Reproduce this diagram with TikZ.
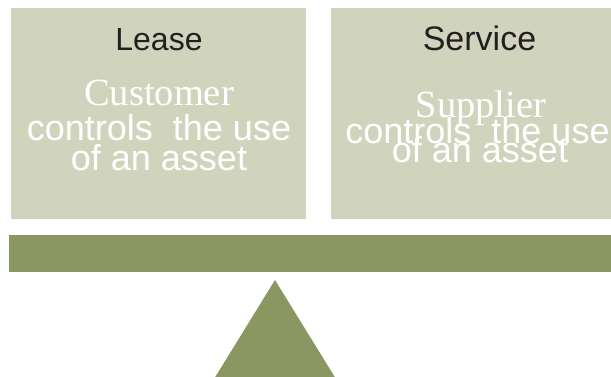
\documentclass[tikz,border=0pt]{standalone}
\usepackage{fontspec}
\setmainfont{Liberation Serif}
\setsansfont{Liberation Sans}
\definecolor{boxfill}{HTML}{D1D4BD}
\definecolor{olivebar}{HTML}{8A9761}
\definecolor{titlecol}{HTML}{231F20}
\begin{document}
\begin{tikzpicture}[x=1pt,y=1pt,
  panel/.style={fill=boxfill, draw=none, minimum width=295pt, minimum height=211pt, anchor=north west, inner sep=0pt},
  title/.style={anchor=base, inner sep=0pt, text=titlecol, font=\sffamily\fontsize{32}{36}\selectfont},
  who/.style={anchor=base, inner sep=0pt, text=white, font=\rmfamily\fontsize{38.5}{44}\selectfont},
  body/.style={anchor=base, inner sep=0pt, text=white, font=\sffamily\fontsize{36}{42}\selectfont}]
\useasboundingbox (0,0) rectangle (611,376);
\fill[white] (0,0) rectangle (611,376);
% panels
\node[panel] (lbox) at (11,368) {};
\node[panel] (rbox) at (331,368) {};
% beam
\node[fill=olivebar, draw=none, minimum width=610pt, minimum height=37pt, anchor=north west, inner sep=0pt] (beam) at (9,141) {};
% fulcrum
\fill[olivebar] (275,96) -- (336,-3) -- (214,-3) -- cycle;
% left texts
\node[title] (lt) at (159,326) {Lease};
\node[who] (lw) at (159,271) {Customer};
\node[body] (lb1) at (159,236) {controls~ the use};
\node[body] (lb2) at (159,206) {of an asset};
% right texts
\node[title, font=\sffamily\fontsize{34}{38}\selectfont] (rt) at (479.5,326) {Service};
\node[who] (rw) at (481,259) {Supplier};
\node[body] (rb1) at (477.5,233) {controls~ the use};
\node[body] (rb2) at (480,214) {of an asset};
\end{tikzpicture}
\end{document}
